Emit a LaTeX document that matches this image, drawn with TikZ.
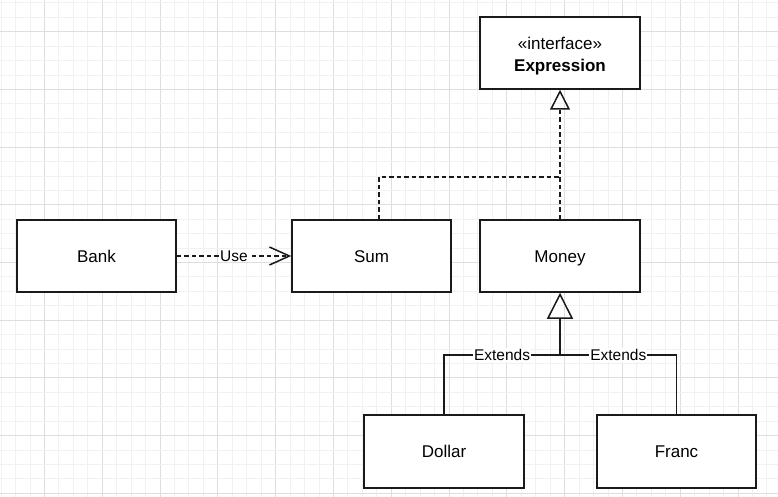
\documentclass[tikz,border=0pt]{standalone}
\usepackage{fontspec}
\setmainfont{Liberation Sans}
\usetikzlibrary{arrows.meta}
\definecolor{minorgrid}{HTML}{F1F1F1}
\definecolor{majorgrid}{HTML}{DEDEDE}
\definecolor{ink}{HTML}{1A1A1A}
\tikzset{
  cls/.style={draw=ink, line width=1.5pt, fill=white, minimum width=159pt, minimum height=72pt, inner sep=0pt, align=center, font=\fontsize{17}{21}\selectfont},
  oneline/.style={text height=12.2pt, text depth=0pt},
  conn/.style={draw=ink, line width=1.5pt},
  dash line/.style={dash pattern=on 4.5pt off 3pt},
  lbl/.style={fill=white, inner sep=1pt, font=\fontsize{15.5}{18}\selectfont},
}
\begin{document}
\begin{tikzpicture}[x=1pt, y=-1pt]
\useasboundingbox (0,0) rectangle (778,497);
\fill[white] (0,0) rectangle (778,497);
% grid
\foreach \i in {0,...,54} {
  \pgfmathsetmacro\xx{1+14.45*\i}
  \pgfmathtruncatemacro\m{mod(\i,4)}
  \ifnum\m=3
    \draw[majorgrid, line width=0.8pt] (\xx,0) -- (\xx,497);
  \else
    \draw[minorgrid, line width=0.8pt] (\xx,0) -- (\xx,497);
  \fi
}
\foreach \i in {0,...,34} {
  \pgfmathsetmacro\yy{2.9+14.42*\i}
  \pgfmathtruncatemacro\m{mod(\i,4)}
  \ifnum\m=2
    \draw[majorgrid, line width=0.8pt] (0,\yy) -- (778,\yy);
  \else
    \draw[minorgrid, line width=0.8pt] (0,\yy) -- (778,\yy);
  \fi
}
% classes
\node[cls, minimum width=160pt] (expr) at (560,53) {\rule{0pt}{19pt}«interface»\\[1pt]\textbf{Expression}};
\node[cls, oneline] (bank) at (96.5,256) {Bank};
\node[cls, oneline] (sum) at (371.5,256) {Sum};
\node[cls, oneline, minimum width=160pt] (money) at (560,256) {Money};
\node[cls, oneline, minimum width=160pt, minimum height=73pt] (dollar) at (444,451.5) {Dollar};
\node[cls, oneline, minimum height=73pt] (franc) at (676.5,451.5) {Franc};
% realization
\coordinate (j1) at (560,177);
\draw[conn, dash line, -{Triangle[open, length=20pt, width=20pt, line width=1.5pt]}] (money.north) -- (expr.south);
\draw[conn, dash line] ([xshift=7.5pt]sum.north) |- (j1);
% use dependency
\draw[conn, dash line, -{Straight Barb[length=20pt, width=18pt, line width=1.5pt]}] (bank.east) -- node[lbl] {Use} (sum.west);
% generalization
\coordinate (j2) at (560,355);
\draw[conn] (dollar.north) |- node[lbl, pos=0.75] {Extends} (j2);
\draw[conn] (franc.north) |- node[lbl, pos=0.75] {Extends} (j2);
\draw[conn, -{Triangle[open, length=26pt, width=26pt, line width=1.5pt]}] (j2) -- (money.south);
\end{tikzpicture}
\end{document}
